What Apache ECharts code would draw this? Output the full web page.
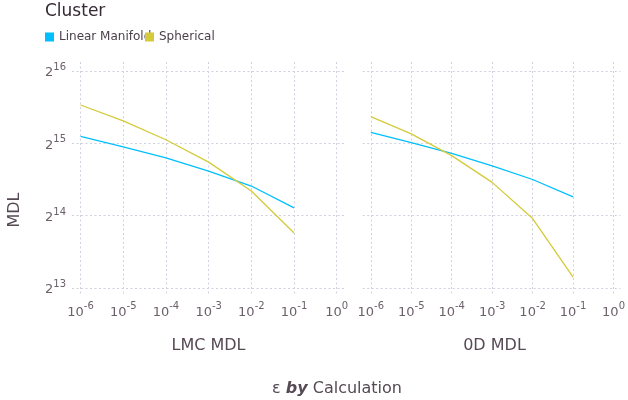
<!DOCTYPE html>
<html>
<head>
<meta charset="utf-8">
<script src="https://cdn.jsdelivr.net/npm/echarts@6/dist/echarts.min.js"></script>
<style>html,body{margin:0;padding:0;background:#fff}#c{width:628px;height:400px}</style>
</head>
<body>
<div id="c"></div>
<script>
// ---- data ----
const epsilon = [1e-6, 1e-5, 1e-4, 1e-3, 1e-2, 1e-1];
const lmcLinear = [35000, 31650, 28530, 25100, 21770, 17650];
const lmcSpherical = [47310, 40620, 33920, 27360, 20740, 13870];
const odLinear = [36360, 33000, 29740, 26430, 23170, 19620];
const odSpherical = [42350, 35860, 29130, 22540, 15940, 9090];
const xTicks = [1e-6, 1e-5, 1e-4, 1e-3, 1e-2, 1e-1, 1];
const yTicks = [8192, 16384, 32768, 65536];
const panelTitles = ['LMC MDL', '0D MDL'];
const seriesNames = ['Linear Manifold', 'Spherical'];
const colors = ['#00BFFF', '#D4CA3A'];

const FONT = 'DejaVu Sans';
const gridColor = '#D0D0E0';
const tickColor = '#6C606B';
const titleColor = '#564A55';

const pairs = (xs, ys) => xs.map((x, i) => [x, ys[i]]);

function xAxis(gridIndex) {
  return {
    type: 'log', logBase: 10, gridIndex,
    min: Math.pow(10, -6.2), max: Math.pow(10, 0.17),
    axisLine: {show: false},
    axisTick: {show: false, customValues: xTicks},
    axisLabel: {
      customValues: xTicks, margin: 5, color: tickColor,
      formatter: v => '{b|10}{s|' + Math.round(Math.log10(v)) + '}',
      rich: {
        b: {fontSize: 13, fontFamily: FONT, color: tickColor, verticalAlign: 'bottom', lineHeight: 18},
        s: {fontSize: 10, fontFamily: FONT, color: tickColor, verticalAlign: 'top', lineHeight: 18}
      }
    },
    splitLine: {show: true, lineStyle: {color: gridColor, type: [2, 2.5], width: 1}}
  };
}
function yAxis(gridIndex, showLabel) {
  return {
    type: 'log', logBase: 2, gridIndex,
    min: Math.pow(2, 12.89), max: Math.pow(2, 16.124),
    axisLine: {show: false},
    axisTick: {show: false, customValues: yTicks},
    axisLabel: {
      show: showLabel, customValues: yTicks, margin: 6, color: tickColor,
      formatter: v => '{b|2}{s|' + Math.round(Math.log2(v)) + '}',
      rich: {
        b: {fontSize: 13, fontFamily: FONT, color: tickColor, verticalAlign: 'bottom', lineHeight: 17},
        s: {fontSize: 10, fontFamily: FONT, color: tickColor, verticalAlign: 'top', lineHeight: 17}
      }
    },
    splitLine: {show: true, lineStyle: {color: gridColor, type: [2, 2.5], width: 1}}
  };
}
function line(name, data, color, idx) {
  return {
    type: 'line', name, data, xAxisIndex: idx, yAxisIndex: idx,
    symbol: 'none', color, itemStyle: {color},
    lineStyle: {color, width: 1.3}, animation: false
  };
}
function legend(left, name) {
  return {left, top: 31, padding: 0, icon: 'rect', itemWidth: 9, itemHeight: 9, itemGap: 0,
    data: [name], selectedMode: false,
    textStyle: {fontFamily: FONT, fontSize: 12, color: '#4C404B', padding: [0, 0, 0, 0]}};
}

const option = {
  animation: false,
  textStyle: {fontFamily: FONT},
  grid: [
    {left: 72, top: 62, width: 272, height: 234},
    {left: 362.7, top: 62, width: 262.9, height: 234}
  ],
  xAxis: [xAxis(0), xAxis(1)],
  yAxis: [yAxis(0, true), yAxis(1, false)],
  legend: [legend(45, seriesNames[0]), legend(145, seriesNames[1])],
  graphic: [
    {type: 'text', left: 45, top: 3, style: {text: 'Cluster', font: '17px "DejaVu Sans"', fill: '#362A35'}},
    {type: 'text', x: 15, y: 210, rotation: Math.PI / 2,
     style: {text: 'MDL', font: '16px "DejaVu Sans"', fill: titleColor, align: 'center', verticalAlign: 'middle'}},
    {type: 'text', x: 208.5, y: 346,
     style: {text: panelTitles[0], font: '16px "DejaVu Sans"', fill: titleColor, align: 'center', verticalAlign: 'middle'}},
    {type: 'text', x: 494.5, y: 346,
     style: {text: panelTitles[1], font: '16px "DejaVu Sans"', fill: titleColor, align: 'center', verticalAlign: 'middle'}},
    {type: 'text', x: 337, y: 389,
     style: {text: '{n|ε }{b|by}{n| Calculation}', align: 'center', verticalAlign: 'middle',
       rich: {
         n: {fontSize: 16, fontFamily: FONT, fill: titleColor, color: titleColor},
         b: {fontSize: 16, fontFamily: FONT, fontWeight: 'bold', fontStyle: 'italic', fill: titleColor, color: titleColor}
       }}}
  ],
  series: [
    line(seriesNames[0], pairs(epsilon, lmcLinear), colors[0], 0),
    line(seriesNames[1], pairs(epsilon, lmcSpherical), colors[1], 0),
    line(seriesNames[0], pairs(epsilon, odLinear), colors[0], 1),
    line(seriesNames[1], pairs(epsilon, odSpherical), colors[1], 1)
  ]
};
const chart = echarts.init(document.getElementById('c'), null, {renderer: 'canvas'});
chart.setOption(option);
</script>
</body>
</html>
